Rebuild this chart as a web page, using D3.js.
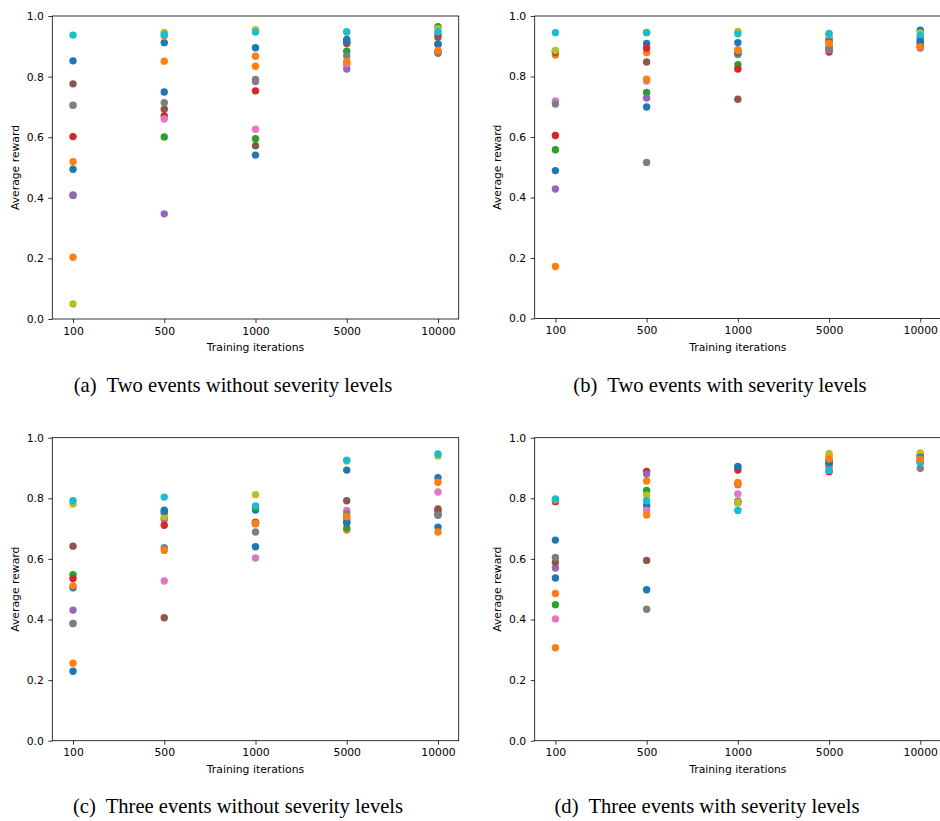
<!DOCTYPE html>
<html><head><meta charset="utf-8">
<script src="https://cdn.jsdelivr.net/npm/d3@7"></script>
<style>html,body{margin:0;padding:0;background:#fff;}svg{display:block;}</style>
</head><body>
<svg id="chart" width="940" height="821"></svg>
<script>
// Categories (x axis) and y ticks
const categories = ["100", "500", "1000", "5000", "10000"];
const yTicks = [0.0, 0.2, 0.4, 0.6, 0.8, 1.0];
const palette = ["#1f77b4","#ff7f0e","#2ca02c","#d62728","#9467bd","#8c564b","#e377c2","#7f7f7f","#bcbd22","#17becf","#1f77b4","#ff7f0e"];
const captions = ["(a)  Two events without severity levels", "(b)  Two events with severity levels",
                  "(c)  Three events without severity levels", "(d)  Three events with severity levels"];

// Each row = one run (series), values at 100, 500, 1000, 5000, 10000
const twoNoSev = [
  [0.852, 0.912, 0.895, 0.923, 0.907],
  [0.519, 0.934, 0.867, 0.840, 0.880],
  [0.408, 0.601, 0.595, 0.884, 0.965],
  [0.602, 0.670, 0.753, 0.913, 0.937],
  [0.409, 0.347, 0.784, 0.825, 0.877],
  [0.776, 0.692, 0.572, 0.909, 0.930],
  [0.705, 0.660, 0.626, 0.842, 0.882],
  [0.706, 0.714, 0.791, 0.868, 0.880],
  [0.0495, 0.946, 0.955, 0.946, 0.958],
  [0.937, 0.939, 0.947, 0.948, 0.948],
  [0.494, 0.749, 0.541, 0.918, 0.907],
  [0.204, 0.851, 0.834, 0.850, 0.886]
];
const twoSev = [
  [0.884, 0.909, 0.912, 0.925, 0.953],
  [0.871, 0.879, 0.880, 0.920, 0.898],
  [0.558, 0.747, 0.839, 0.900, 0.930],
  [0.605, 0.894, 0.825, 0.881, 0.900],
  [0.428, 0.729, 0.878, 0.888, 0.894],
  [0.880, 0.848, 0.725, 0.893, 0.910],
  [0.719, 0.785, 0.889, 0.895, 0.925],
  [0.709, 0.516, 0.873, 0.892, 0.920],
  [0.886, 0.946, 0.949, 0.938, 0.944],
  [0.945, 0.945, 0.941, 0.942, 0.936],
  [0.489, 0.699, 0.880, 0.915, 0.915],
  [0.172, 0.791, 0.886, 0.910, 0.898]
];
const threeNoSev = [
  [0.505, 0.761, 0.761, 0.893, 0.868],
  [0.511, 0.728, 0.720, 0.695, 0.853],
  [0.548, 0.751, 0.770, 0.702, 0.750],
  [0.535, 0.711, 0.720, 0.720, 0.760],
  [0.431, 0.735, 0.716, 0.730, 0.745],
  [0.642, 0.406, 0.720, 0.792, 0.765],
  [0.387, 0.527, 0.603, 0.760, 0.821],
  [0.387, 0.637, 0.689, 0.750, 0.744],
  [0.781, 0.740, 0.812, 0.923, 0.940],
  [0.792, 0.804, 0.775, 0.926, 0.946],
  [0.229, 0.757, 0.640, 0.720, 0.705],
  [0.256, 0.628, 0.718, 0.739, 0.689]
];
const threeSev = [
  [0.662, 0.776, 0.903, 0.914, 0.943],
  [0.486, 0.857, 0.852, 0.940, 0.925],
  [0.449, 0.826, 0.790, 0.925, 0.940],
  [0.789, 0.889, 0.893, 0.888, 0.920],
  [0.570, 0.880, 0.845, 0.910, 0.930],
  [0.589, 0.595, 0.785, 0.920, 0.920],
  [0.402, 0.760, 0.814, 0.900, 0.925],
  [0.605, 0.434, 0.790, 0.910, 0.899],
  [0.795, 0.810, 0.786, 0.948, 0.950],
  [0.798, 0.792, 0.760, 0.892, 0.918],
  [0.537, 0.498, 0.905, 0.920, 0.935],
  [0.307, 0.745, 0.848, 0.930, 0.930]
];

const panels = [
  {data: twoNoSev,   caption: captions[0], left: 52.3, right: 458.7, top: 16,    bottom: 319,   capX: 233, capY: 391.5},
  {data: twoSev,     caption: captions[1], left: 534.7, right: 941,  top: 16,    bottom: 318.5, capX: 720, capY: 391.5},
  {data: threeNoSev, caption: captions[2], left: 52.3, right: 458.7, top: 437.7, bottom: 740.7, capX: 238, capY: 812.5},
  {data: threeSev,   caption: captions[3], left: 534.7, right: 941,  top: 437.7, bottom: 740.7, capX: 707, capY: 812.5}
];

const svg = d3.select("#chart");
const fontSans = "'DejaVu Sans', sans-serif";
const fs = 10.8;

panels.forEach(p => {
  const x = d3.scaleLinear().domain([-0.227, categories.length - 1 + 0.227]).range([p.left, p.right]);
  const y = d3.scaleLinear().domain([0, 1]).range([p.bottom, p.top]);
  const g = svg.append("g");

  // points
  p.data.forEach((series, si) => {
    g.append("g").selectAll("circle").data(series).join("circle")
      .attr("cx", (d, i) => x(i))
      .attr("cy", d => y(d))
      .attr("r", 3.7)
      .attr("fill", palette[si]);
  });

  // axes
  const xAxis = d3.axisBottom(x).tickValues(d3.range(categories.length))
    .tickFormat(i => categories[i]).tickSizeOuter(0).tickSize(4).tickPadding(4);
  const yAxis = d3.axisLeft(y).tickValues(yTicks)
    .tickFormat(d3.format(".1f")).tickSizeOuter(0).tickSize(4).tickPadding(4.5);

  const gx = g.append("g").attr("transform", `translate(0,${p.bottom})`).call(xAxis);
  const gy = g.append("g").attr("transform", `translate(${p.left},0)`).call(yAxis);
  [gx, gy].forEach(a => {
    a.select(".domain").remove();
    a.selectAll("text").attr("font-family", fontSans).attr("font-size", fs).attr("fill", "#000");
    a.selectAll("line").attr("stroke", "#000").attr("stroke-width", 0.8);
  });

  // frame
  g.append("rect")
    .attr("x", p.left).attr("y", p.top)
    .attr("width", p.right - p.left).attr("height", p.bottom - p.top)
    .attr("fill", "none").attr("stroke", "#000").attr("stroke-width", 0.8);

  // axis labels
  g.append("text")
    .attr("x", (p.left + p.right) / 2)
    .attr("y", p.bottom + 32)
    .attr("text-anchor", "middle")
    .attr("font-family", fontSans).attr("font-size", fs)
    .text("Training iterations");

  g.append("text")
    .attr("transform", `translate(${p.left - 33.5},${(p.top + p.bottom) / 2}) rotate(-90)`)
    .attr("text-anchor", "middle")
    .attr("font-family", fontSans).attr("font-size", fs)
    .text("Average reward");

  // caption
  svg.append("text")
    .attr("x", p.capX).attr("y", p.capY)
    .attr("text-anchor", "middle")
    .attr("font-family", "'Liberation Serif', 'Times New Roman', serif")
    .attr("font-size", 20.6)
    .style("white-space", "pre")
    .text(p.caption);
});
</script>
</body></html>
